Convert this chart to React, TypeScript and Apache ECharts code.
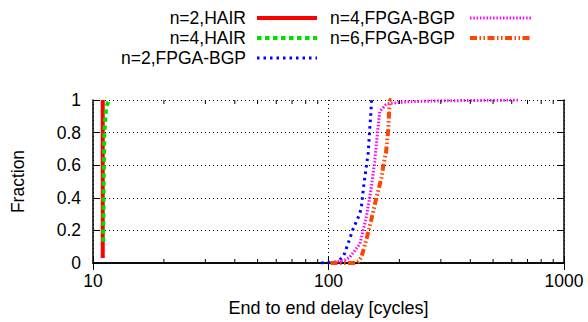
import React, { useEffect, useRef } from "react";
import * as echarts from "echarts";

const xTickLabels = ["10", "100", "1000"];
const minorTickValues = [20, 30, 40, 50, 60, 70, 80, 90, 200, 300, 400, 500, 600, 700, 800, 900];

const seriesNames = ["n=2,HAIR", "n=4,HAIR", "n=2,FPGA-BGP", "n=4,FPGA-BGP", "n=6,FPGA-BGP"];

const hair2: [number, number][] = [
  [11.0, 0.03],
  [11.0, 1.0],
];
const hair4: [number, number][] = [
  [11.05, 0.13],
  [11.08, 0.3],
  [11.1, 0.5],
  [11.17, 0.8],
  [11.36, 0.95],
  [11.6, 0.99],
  [11.8, 1.0],
];
const bgp2: [number, number][] = [
  [93, 0.0],
  [108, 0.005],
  [115.6, 0.037],
  [123, 0.147],
  [127, 0.207],
  [136, 0.305],
  [138, 0.35],
  [141, 0.47],
  [145, 0.6],
  [147.6, 0.68],
  [149, 0.78],
  [151, 0.9],
  [152.4, 1.0],
];
const bgp4: [number, number][] = [
  [103, 0.0],
  [118, 0.02],
  [123, 0.035],
  [136, 0.117],
  [145, 0.286],
  [152, 0.464],
  [157, 0.62],
  [161, 0.78],
  [165, 0.93],
  [175, 0.97],
  [182, 0.98],
  [222, 0.99],
  [300, 0.995],
  [640, 1.0],
];
const bgp6: [number, number][] = [
  [102, 0.0],
  [130, 0.0],
  [134, 0.01],
  [138, 0.037],
  [145, 0.147],
  [152, 0.266],
  [160, 0.405],
  [168, 0.524],
  [171, 0.6],
  [175.5, 0.68],
  [179.5, 0.82],
  [181, 0.94],
  [182, 1.0],
  [185, 1.0],
];

const colors = ["#ff0000", "#00e000", "#0000ff", "#ff00ff", "#ff4500"];
const widths = [4, 4, 3, 3, 4];
const dashes: (number[] | "solid")[] = [
  "solid",
  [4.5, 3.5],
  [2.5, 4],
  [1.5, 1.8],
  [7, 2.5, 1.5, 2.5, 1.5, 2.5],
];
const allData = [hair2, hair4, bgp2, bgp4, bgp6];

const FONT = "'Liberation Sans', Arial, Helvetica, sans-serif";
const FS = 17.5;

export default function App() {
  const ref = useRef<HTMLDivElement>(null);
  useEffect(() => {
    if (!ref.current) return;
    const chart = echarts.init(ref.current, null, { renderer: "svg" });

    const legendPos: [number, "left" | "right", number, number, number][] = [
      [246, "right", 257, 317, 18],
      [246, "right", 257, 317, 38],
      [246, "right", 257, 317, 58],
      [330, "left", 470, 531, 18],
      [330, "left", 470, 531, 38],
    ];
    const graphics: any[] = [];
    seriesNames.forEach((name, i) => {
      const [tx, align, x1, x2, y] = legendPos[i];
      graphics.push({
        type: "text",
        x: tx,
        y: y,
        style: {
          text: name,
          fill: "#000",
          font: `${FS}px ${FONT}`,
          textAlign: align,
          textVerticalAlign: "middle",
        },
      });
      graphics.push({
        type: "line",
        shape: { x1, y1: y, x2, y2: y },
        style: {
          stroke: colors[i],
          lineWidth: widths[i],
          lineDash: dashes[i] === "solid" ? null : (dashes[i] as number[]),
        },
      });
    });

    const series: any[] = allData.map((d, i) => ({
      type: "line",
      name: seriesNames[i],
      data: d,
      showSymbol: false,
      symbol: "none",
      lineStyle: {
        color: colors[i],
        width: widths[i],
        type: dashes[i],
      },
      z: 3 + i,
    }));

    series.push({
      type: "custom",
      silent: true,
      data: minorTickValues.map((v) => [v, 0]),
      encode: { x: 0, y: 1 },
      z: 10,
      renderItem: (_params: any, api: any) => {
        const v = api.value(0);
        const b = api.coord([v, 0]);
        const t = api.coord([v, 1]);
        return {
          type: "group",
          children: [
            {
              type: "line",
              shape: { x1: b[0], y1: b[1], x2: b[0], y2: b[1] - 4 },
              style: { stroke: "#000", lineWidth: 1 },
            },
            {
              type: "line",
              shape: { x1: t[0], y1: t[1], x2: t[0], y2: t[1] + 4 },
              style: { stroke: "#000", lineWidth: 1 },
            },
          ],
        };
      },
    });

    const axisText = { color: "#000", fontSize: FS, fontFamily: FONT };

    chart.setOption({
      animation: false,
      backgroundColor: "#fff",
      grid: { left: 93, right: 24, top: 100, bottom: 54, containLabel: false },
      xAxis: [
        {
          type: "log",
          logBase: 10,
          min: 10,
          max: 1000,
          position: "bottom",
          name: "End to end delay [cycles]",
          nameLocation: "middle",
          nameGap: 36,
          nameTextStyle: { ...axisText, fontSize: 18 },
          axisLine: { show: true, lineStyle: { color: "#000", width: 1.5 } },
          axisTick: { show: true, inside: true, length: 7, lineStyle: { color: "#000" } },
          axisLabel: {
            ...axisText,
            margin: 9,
            formatter: (v: number) => {
              const idx = Math.round(Math.log10(v)) - 1;
              return xTickLabels[idx] ?? String(v);
            },
          },
          splitLine: { show: true, lineStyle: { color: "#000", type: [1, 3], width: 1 } },
        },
        {
          type: "log",
          logBase: 10,
          min: 10,
          max: 1000,
          position: "top",
          axisLine: { show: true, lineStyle: { color: "#000", width: 1.5 } },
          axisTick: { show: true, inside: true, length: 7, lineStyle: { color: "#000" } },
          axisLabel: { show: false },
          splitLine: { show: false },
        },
      ],
      yAxis: [
        {
          type: "value",
          min: 0,
          max: 1,
          interval: 0.2,
          position: "left",
          name: "Fraction",
          nameLocation: "middle",
          nameGap: 66,
          nameTextStyle: axisText,
          axisLine: { show: true, lineStyle: { color: "#000", width: 1.5 } },
          axisTick: { show: true, inside: true, length: 7, lineStyle: { color: "#000" } },
          axisLabel: { ...axisText, margin: 12 },
          splitLine: { show: true, lineStyle: { color: "#000", type: [1, 3], width: 1 } },
        },
        {
          type: "value",
          min: 0,
          max: 1,
          interval: 0.2,
          position: "right",
          axisLine: { show: true, lineStyle: { color: "#000", width: 1.5 } },
          axisTick: { show: true, inside: true, length: 7, lineStyle: { color: "#000" } },
          axisLabel: { show: false },
          splitLine: { show: false },
        },
      ],
      graphic: graphics,
      series,
    });
    return () => chart.dispose();
  }, []);
  return (
    <div
      ref={ref}
      style={{ position: "absolute", left: 0, top: 0, width: 588, height: 322 }}
    />
  );
}
